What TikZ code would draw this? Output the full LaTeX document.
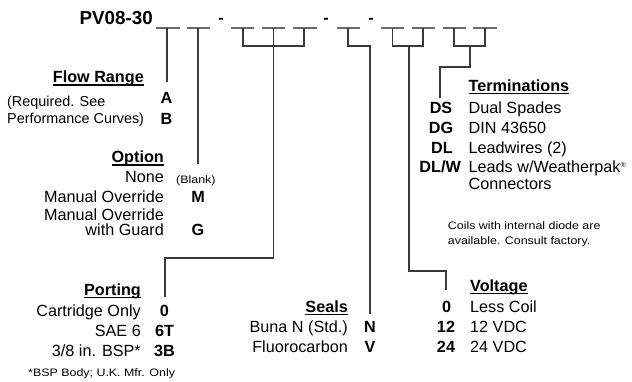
\documentclass[tikz,border=0pt]{standalone}
\usepackage{fontspec}
\setmainfont{Liberation Sans}
\newfontfamily\smallwide[FakeStretch=1.15]{Liberation Sans}
\newcommand\hdr[1]{\setbox0\hbox{\bfseries #1}\rlap{\rule[-2.6pt]{\wd0}{1.1pt}}\box0}
\definecolor{ln}{HTML}{3A3A3A}
\definecolor{us}{HTML}{6A6A6A}
\begin{document}
\begin{tikzpicture}[x=1pt,y=-1pt,
  txt/.style={inner sep=0pt,font=\fontsize{16.2}{19}\selectfont},
  code/.style={inner sep=0pt,font=\fontsize{16.2}{19}\selectfont\bfseries,anchor=base},
  le/.style={txt,anchor=base east},
  lw/.style={txt,anchor=base west},
  mid/.style={inner sep=0pt,font=\fontsize{14.4}{17}\selectfont,anchor=base west},
  tiny/.style={inner sep=0pt,font=\fontsize{10.8}{13}\smallwide,anchor=base west},
  conn/.style={draw=ln,line width=1.4pt},
  uline/.style={draw=us,line width=1.1pt}]
\useasboundingbox (0,0) rectangle (632,382);
% title
\node[inner sep=0pt,anchor=base east,font=\fontsize{18.8}{22}\selectfont\bfseries] (title) at (153,25) {PV08-30};
\foreach \n/\a/\b in {u1/156/180,u2/187/210,u3/231/254,u4/262/285,u5/293/317,u6/337/360,u7/381/404,u8/412/435,u9/443/466,u10/473/497}{
  \coordinate (\n a) at (\a,28); \coordinate (\n b) at (\b,28);
  \draw[uline] (\n a) -- (\n b);
}
\foreach \n/\x in {d1/221,d2/326,d3/371}{
  \node[inner sep=0pt,anchor=base,font=\fontsize{16.2}{19}\selectfont\bfseries] (\n) at (\x,24) {-};
}
% connectors
\coordinate (f1) at (167,28); \coordinate (f2) at (167,82);
\draw[conn] (f1) -- (f2);
\coordinate (o1) at (198,28); \coordinate (o2) at (198,164);
\draw[conn] (o1) -- (o2);
\coordinate (p1) at (243,28); \coordinate (p2) at (304,28); \coordinate (p3) at (273.5,28);
\coordinate (p4) at (165,297);
\draw[conn] (p1) |- (273.5,46) -| (p2);
\draw[conn] (p3) -- (273.5,258) -| (p4);
\coordinate (s1) at (348,28); \coordinate (s2) at (370,314);
\draw[conn] (s1) |- (370,46) -- (s2);
\coordinate (v1) at (392.5,28); \coordinate (v2) at (423,28); \coordinate (v3) at (446,290);
\draw[conn] (v1) |- (409,46) -| (v2);
\draw[conn] (409,46) -- (409,271) -| (v3);
\coordinate (t1) at (454,28); \coordinate (t2) at (485,28); \coordinate (t3) at (440,98);
\draw[conn] (t1) |- (470,46) -| (t2);
\draw[conn] (470,46) -- (470,67) -| (t3);
% flow range
\node[le] (fr) at (144,83) {\hdr{Flow Range}};
\node[mid] (fr1) at (7,106.5) {(Required. See};
\node[mid] (fr2) at (7,124) {Performance Curves)};
\node[code] (fa) at (166.5,104) {A};
\node[code] (fb) at (166.5,124.5) {B};
% option
\node[le] (op) at (164,163) {\hdr{Option}};
\node[le] (op1) at (164,183) {None};
\node[tiny] (opb) at (176,184) {(Blank)};
\node[le] (op2) at (164,203) {Manual Override};
\node[code] (om) at (198,203) {M};
\node[le] (op3) at (164,220.5) {Manual Override};
\node[le] (op4) at (164,236) {with Guard};
\node[code] (og) at (198,236) {G};
% porting
\node[le] (po) at (141,295) {\hdr{Porting}};
\node[le] (po1) at (141,316.7) {Cartridge Only};
\node[code] (pc1) at (164.5,316.7) {0};
\node[le] (po2) at (141,336.7) {SAE 6};
\node[code] (pc2) at (164.5,336.7) {6T};
\node[le] (po3) at (141,356.7) {3/8 in. BSP*};
\node[code] (pc3) at (164.5,356.7) {3B};
\node[tiny] (pon) at (28,376.7) {*BSP Body; U.K. Mfr. Only};
% seals
\node[le] (se) at (348,312.7) {\hdr{Seals}};
\node[le] (se1) at (348,332.7) {Buna N (Std.)};
\node[code] (sc1) at (370,332.7) {N};
\node[le] (se2) at (348,352.7) {Fluorocarbon};
\node[code] (sc2) at (370,352.7) {V};
% voltage
\node[lw] (vo) at (470,291.7) {\hdr{Voltage}};
\node[code] (vc1) at (446.5,312.7) {0};
\node[lw] (vo1) at (470,312.7) {Less Coil};
\node[code] (vc2) at (446,332.7) {12};
\node[lw] (vo2) at (470,332.7) {12 VDC};
\node[code] (vc3) at (446,352.7) {24};
\node[lw] (vo3) at (470,352.7) {24 VDC};
% terminations
\node[lw] (te) at (468.5,91.7) {\hdr{Terminations}};
\node[code] (tc1) at (441,113.3) {DS};
\node[lw] (te1) at (468.5,113.3) {Dual Spades};
\node[code] (tc2) at (441,133.3) {DG};
\node[lw] (te2) at (468.5,133.3) {DIN 43650};
\node[code] (tc3) at (442,154) {DL};
\node[lw] (te3) at (468.5,154) {Leadwires (2)};
\node[code,anchor=base east] (tc4) at (461,173) {DL/W};
\node[lw] (te4) at (468.5,173) {Leads w/Weatherpak\raisebox{5.5pt}{\fontsize{7}{7}\selectfont ®}};
\node[lw] (te5) at (468.5,189.3) {Connectors};
\node[tiny] (tn1) at (447.7,230) {Coils with internal diode are};
\node[tiny] (tn2) at (447.7,245) {available. Consult factory.};
\end{tikzpicture}
\end{document}
